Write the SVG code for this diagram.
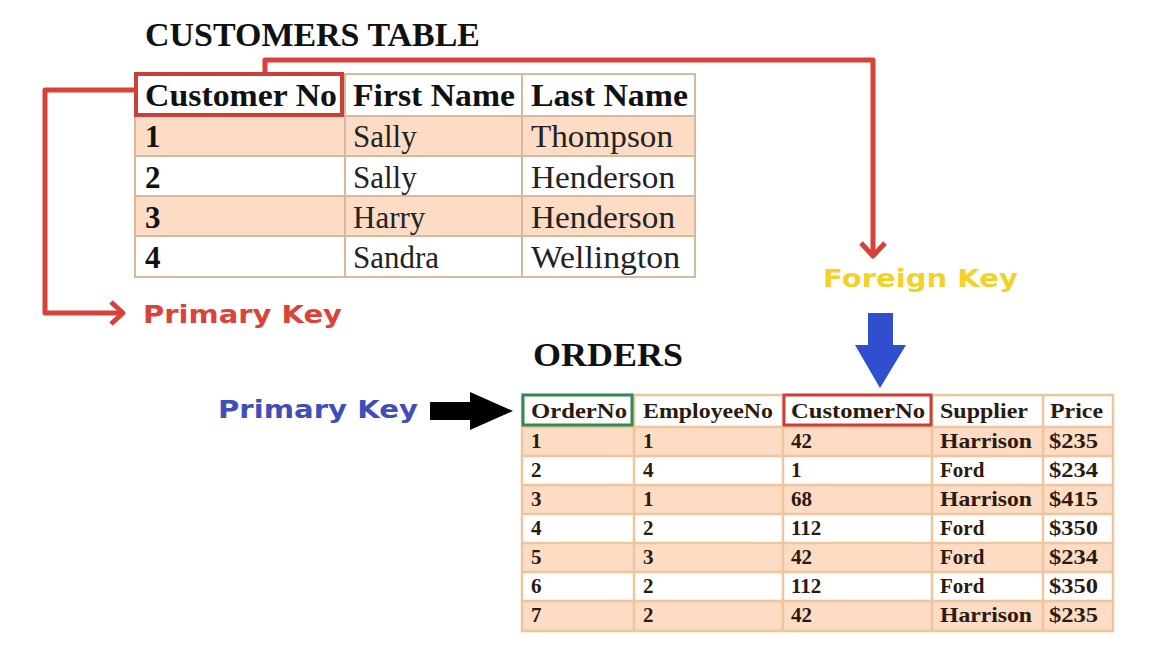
<svg xmlns="http://www.w3.org/2000/svg" width="1167" height="657" viewBox="0 0 1167 657">
<style>
.title{font-family:"Liberation Serif",serif;font-weight:bold;font-size:33px;fill:#111}
.ch{font-family:"Liberation Serif",serif;font-weight:bold;font-size:31px;fill:#111}
.cb{font-family:"Liberation Serif",serif;font-size:31px;fill:#222}
.cn{font-family:"Liberation Serif",serif;font-weight:bold;font-size:31px;fill:#111}
.ot{font-family:"Liberation Serif",serif;font-weight:bold;font-size:21px;fill:#2a1a10}
.pr{font-family:"Liberation Serif",serif;font-weight:bold;font-size:21px;fill:#2a1a10}
.lbl{font-family:"DejaVu Sans",Verdana,sans-serif;font-weight:bold;font-size:25px}
.peach{fill:#fcdcc4}
.white{fill:#ffffff}
.grid{stroke:#d8b89a;stroke-width:2;fill:none}
.ogrid{stroke:#f0c49c;stroke-width:2.5;fill:none}
.conn{stroke:#d8413a;stroke-width:5;fill:none;stroke-linejoin:round}
</style>
<rect width="1167" height="657" fill="#ffffff"/>

<g id="customers-table">
<text class="title" x="145" y="46" textLength="335" lengthAdjust="spacingAndGlyphs">CUSTOMERS TABLE</text>
<rect class="white" x="135" y="74" width="560" height="42"/>
<rect class="peach" x="135" y="116" width="560" height="40"/>
<rect class="white" x="135" y="156" width="560" height="40"/>
<rect class="peach" x="135" y="196" width="560" height="40"/>
<rect class="white" x="135" y="236" width="560" height="41"/>
<g class="grid">
<rect x="135" y="74" width="560" height="203"/>
<line x1="345" y1="74" x2="345" y2="277"/>
<line x1="522" y1="74" x2="522" y2="277"/>
<line x1="135" y1="116" x2="695" y2="116"/>
<line x1="135" y1="156" x2="695" y2="156"/>
<line x1="135" y1="196" x2="695" y2="196"/>
<line x1="135" y1="236" x2="695" y2="236"/>
</g>
<text class="ch" x="145" y="106" textLength="192" lengthAdjust="spacingAndGlyphs">Customer No</text>
<text class="ch" x="353" y="106" textLength="162" lengthAdjust="spacingAndGlyphs">First Name</text>
<text class="ch" x="531" y="106" textLength="157" lengthAdjust="spacingAndGlyphs">Last Name</text>
<text class="cn" x="145" y="147">1</text>
<text class="cn" x="145" y="188">2</text>
<text class="cn" x="145" y="228">3</text>
<text class="cn" x="145" y="268">4</text>
<text class="cb" x="353" y="147">Sally</text>
<text class="cb" x="353" y="188">Sally</text>
<text class="cb" x="353" y="228">Harry</text>
<text class="cb" x="353" y="268">Sandra</text>
<text class="cb" x="531" y="147" textLength="142" lengthAdjust="spacingAndGlyphs">Thompson</text>
<text class="cb" x="531" y="188" textLength="144" lengthAdjust="spacingAndGlyphs">Henderson</text>
<text class="cb" x="531" y="228" textLength="144" lengthAdjust="spacingAndGlyphs">Henderson</text>
<text class="cb" x="531" y="268" textLength="149" lengthAdjust="spacingAndGlyphs">Wellington</text>
<rect x="136" y="74" width="206" height="41" fill="none" stroke="#c9403a" stroke-width="4"/>
</g>

<g id="orders-table">
<text class="title" x="533" y="366" textLength="150" lengthAdjust="spacingAndGlyphs">ORDERS</text>
<rect class="white" x="522" y="395" width="591" height="32"/>
<rect class="peach" x="522" y="427" width="591" height="29"/>
<rect class="white" x="522" y="456" width="591" height="29"/>
<rect class="peach" x="522" y="485" width="591" height="29"/>
<rect class="white" x="522" y="514" width="591" height="29"/>
<rect class="peach" x="522" y="543" width="591" height="29"/>
<rect class="white" x="522" y="572" width="591" height="29"/>
<rect class="peach" x="522" y="601" width="591" height="30"/>
<g class="ogrid">
<rect x="522" y="395" width="591" height="236"/>
<line x1="634" y1="395" x2="634" y2="631"/>
<line x1="783" y1="395" x2="783" y2="631"/>
<line x1="932" y1="395" x2="932" y2="631"/>
<line x1="1043" y1="395" x2="1043" y2="631"/>
<line x1="522" y1="427" x2="1113" y2="427"/>
<line x1="522" y1="456" x2="1113" y2="456"/>
<line x1="522" y1="485" x2="1113" y2="485"/>
<line x1="522" y1="514" x2="1113" y2="514"/>
<line x1="522" y1="543" x2="1113" y2="543"/>
<line x1="522" y1="572" x2="1113" y2="572"/>
<line x1="522" y1="601" x2="1113" y2="601"/>
</g>
<text class="ot" x="531" y="418" textLength="96" lengthAdjust="spacingAndGlyphs">OrderNo</text>
<text class="ot" x="643" y="418" textLength="130" lengthAdjust="spacingAndGlyphs">EmployeeNo</text>
<text class="ot" x="791" y="418" textLength="134" lengthAdjust="spacingAndGlyphs">CustomerNo</text>
<text class="ot" x="940" y="418" textLength="88" lengthAdjust="spacingAndGlyphs">Supplier</text>
<text class="ot" x="1050" y="418" textLength="53" lengthAdjust="spacingAndGlyphs">Price</text>

<text class="ot" x="531" y="448">1</text><text class="ot" x="643" y="448">1</text><text class="ot" x="791" y="448">42</text><text class="ot" x="940" y="448" textLength="92" lengthAdjust="spacingAndGlyphs">Harrison</text><text class="pr" x="1049" y="448" textLength="49" lengthAdjust="spacingAndGlyphs">$235</text>
<text class="ot" x="531" y="477">2</text><text class="ot" x="643" y="477">4</text><text class="ot" x="791" y="477">1</text><text class="ot" x="940" y="477">Ford</text><text class="pr" x="1049" y="477" textLength="49" lengthAdjust="spacingAndGlyphs">$234</text>
<text class="ot" x="531" y="506">3</text><text class="ot" x="643" y="506">1</text><text class="ot" x="791" y="506">68</text><text class="ot" x="940" y="506" textLength="92" lengthAdjust="spacingAndGlyphs">Harrison</text><text class="pr" x="1049" y="506" textLength="49" lengthAdjust="spacingAndGlyphs">$415</text>
<text class="ot" x="531" y="535">4</text><text class="ot" x="643" y="535">2</text><text class="ot" x="791" y="535">112</text><text class="ot" x="940" y="535">Ford</text><text class="pr" x="1049" y="535" textLength="49" lengthAdjust="spacingAndGlyphs">$350</text>
<text class="ot" x="531" y="564">5</text><text class="ot" x="643" y="564">3</text><text class="ot" x="791" y="564">42</text><text class="ot" x="940" y="564">Ford</text><text class="pr" x="1049" y="564" textLength="49" lengthAdjust="spacingAndGlyphs">$234</text>
<text class="ot" x="531" y="593">6</text><text class="ot" x="643" y="593">2</text><text class="ot" x="791" y="593">112</text><text class="ot" x="940" y="593">Ford</text><text class="pr" x="1049" y="593" textLength="49" lengthAdjust="spacingAndGlyphs">$350</text>
<text class="ot" x="531" y="622">7</text><text class="ot" x="643" y="622">2</text><text class="ot" x="791" y="622">42</text><text class="ot" x="940" y="622" textLength="92" lengthAdjust="spacingAndGlyphs">Harrison</text><text class="pr" x="1049" y="622" textLength="49" lengthAdjust="spacingAndGlyphs">$235</text>

<rect x="523" y="395" width="109" height="30" fill="none" stroke="#2e8b57" stroke-width="3"/>
<rect x="784" y="395" width="147" height="30" fill="none" stroke="#c9403a" stroke-width="3"/>
</g>

<g id="label-primary-key-customers">
<text class="lbl" x="143" y="323" fill="#d8443a" textLength="199" lengthAdjust="spacingAndGlyphs">Primary Key</text>
</g>
<g id="label-foreign-key">
<text class="lbl" x="823" y="287" fill="#f2d22a" textLength="195" lengthAdjust="spacingAndGlyphs">Foreign Key</text>
</g>
<g id="label-primary-key-orders">
<text class="lbl" x="218" y="418" fill="#3f4fb5" textLength="200" lengthAdjust="spacingAndGlyphs">Primary Key</text>
</g>

<g id="connectors">
<polyline class="conn" points="265,73 265,60 873,60 873,254"/>
<polyline class="conn" points="861,243 873,256 885,243"/>
<polyline class="conn" points="135,90 45,90 45,313 122,313"/>
<polyline class="conn" points="111,302 123,313 111,324"/>
<polygon fill="#2f4fcf" points="868,313 893,313 893,345 906,345 880,388 855,345 868,345"/>
<polygon fill="#000000" points="430,402 470,402 470,392 513,411 470,430 470,420 430,420"/>
</g>
</svg>
